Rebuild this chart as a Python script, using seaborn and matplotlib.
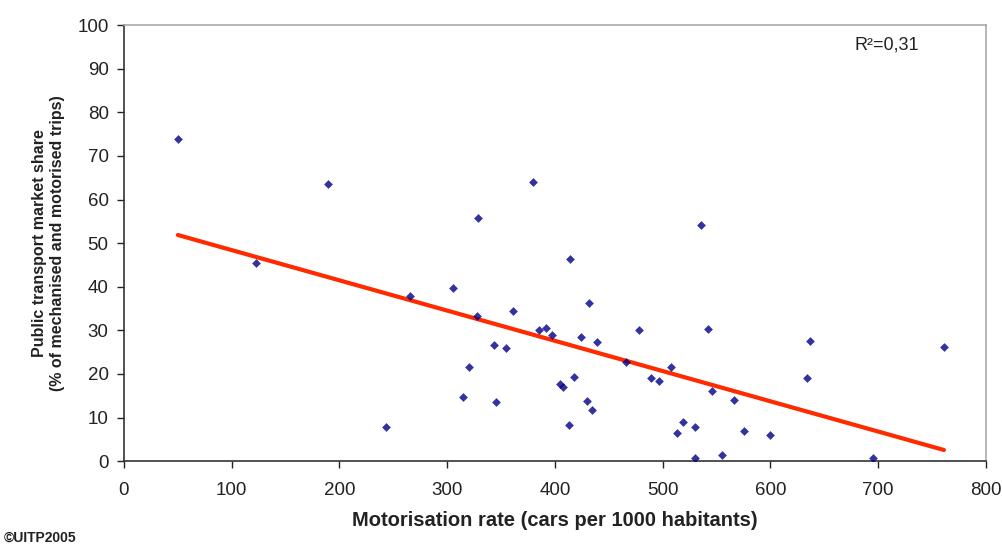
import numpy as np
import pandas as pd
import seaborn as sns
import matplotlib.pyplot as plt

# Motorisation rate vs public transport market share
motorisation = [50, 123, 189, 243, 265, 305, 315, 320, 328, 329,
                343, 345, 355, 361, 380, 385, 392, 397, 405, 407,
                413, 414, 418, 424, 430, 432, 434, 439, 466, 478,
                489, 497, 508, 513, 519, 530, 530, 536, 542, 546,
                555, 566, 575, 600, 634, 637, 695, 761]
pt_share = [74.0, 45.5, 63.5, 7.8, 37.9, 39.8, 14.8, 21.5, 33.2, 55.7,
            26.7, 13.6, 25.9, 34.5, 64.0, 30.0, 30.6, 28.9, 17.6, 17.0,
            8.4, 46.4, 19.4, 28.4, 13.8, 36.3, 11.7, 27.3, 22.8, 30.0,
            19.0, 18.4, 21.6, 6.5, 8.9, 7.9, 0.8, 54.1, 30.3, 16.1,
            1.3, 14.1, 6.9, 5.9, 19.0, 27.5, 0.8, 26.1]

x_ticks = [0, 100, 200, 300, 400, 500, 600, 700, 800]
y_ticks = [0, 10, 20, 30, 40, 50, 60, 70, 80, 90, 100]
r2_label = 'R²=0,31'

df = pd.DataFrame({'Motorisation': motorisation, 'Share': pt_share})

sns.set_style('white')
plt.rcParams['font.family'] = ['Liberation Sans', 'DejaVu Sans']

fig = plt.figure(figsize=(10.03, 5.47), dpi=100)
ax = fig.add_axes([0.1236, 0.157, 0.8594, 0.797])

sns.regplot(data=df, x='Motorisation', y='Share', ax=ax, ci=None,
            marker='D',
            scatter_kws={'s': 20, 'color': '#000088', 'linewidths': 0, 'zorder': 3},
            line_kws={'color': '#FF2A00', 'linewidth': 3, 'zorder': 2})

ax.set_xlim(0, 800)
ax.set_ylim(0, 100)
ax.set_xticks(x_ticks)
ax.set_yticks(y_ticks)
ax.tick_params(axis='both', direction='out', length=5, width=1, colors='#222222',
               labelsize=13.5, labelcolor='#222222', bottom=True, left=True)
ax.tick_params(axis='x', pad=10)
ax.tick_params(axis='y', pad=6)

for side in ['left', 'bottom']:
    ax.spines[side].set_color('#333333')
    ax.spines[side].set_linewidth(1.2)
for side in ['top', 'right']:
    ax.spines[side].set_color('#aaaaaa')
    ax.spines[side].set_linewidth(1.2)

ax.set_xlabel('Motorisation rate (cars per 1000 habitants)', fontsize=14.5,
              fontweight='bold', color='#222222', labelpad=9)
ax.set_ylabel('Public transport market share\n(% of mechanised and motorised trips)',
              fontsize=11.5, fontweight='bold', color='#222222', labelpad=9,
              linespacing=1.2)

ax.text(0.885, 0.975, r2_label, transform=ax.transAxes, fontsize=13,
        ha='center', va='top', color='#222222')
fig.text(0.004, 0.01, '©UITP2005', fontsize=10, fontweight='bold', color='#222222')

fig.savefig('out.png', dpi=100)
